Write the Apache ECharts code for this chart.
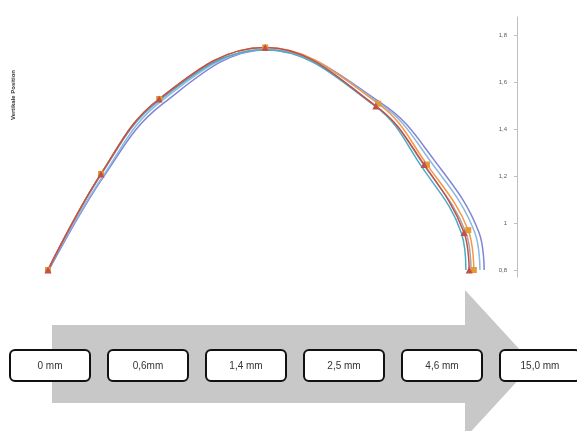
<!DOCTYPE html>
<html>
<head>
<meta charset="utf-8">
<script src="https://cdn.jsdelivr.net/npm/echarts@6/dist/echarts.min.js"></script>
<style>
  html, body { margin: 0; padding: 0; background: #ffffff; }
  #chart { width: 577px; height: 431px; }
</style>
</head>
<body>
<div id="chart"></div>
<script>
// Profile curves, one per depth step (horizontal position, vertical position)
const stepLabels = ['0 mm', '0,6mm', '1,4 mm', '2,5 mm', '4,6 mm', '15,0 mm'];

const profile0mm  = [[0, 0.8], [1.13, 1.21], [2.37, 1.53], [4.63, 1.75], [6.99, 1.50], [8.02, 1.25], [8.87, 0.96], [8.98, 0.8]];
const profile06mm = [[0, 0.8], [1.13, 1.21], [2.37, 1.53], [4.63, 1.75], [7.04, 1.51], [8.08, 1.25], [8.96, 0.97], [9.08, 0.8]];
const profile14mm = [[0, 0.8], [1.11, 1.20], [2.35, 1.52], [4.61, 1.74], [6.97, 1.50], [7.97, 1.24], [8.81, 0.96], [8.91, 0.8]];
const profile25mm = [[0, 0.8], [1.13, 1.21], [2.37, 1.53], [4.63, 1.74], [6.99, 1.50], [8.04, 1.24], [8.91, 0.96], [9.02, 0.8]];
const profile46mm = [[0, 0.8], [1.17, 1.20], [2.41, 1.52], [4.65, 1.74], [7.08, 1.51], [8.17, 1.26], [9.10, 0.96], [9.21, 0.8]];
const profile15mm = [[0.02, 0.8], [1.19, 1.20], [2.45, 1.51], [4.69, 1.74], [7.12, 1.51], [8.23, 1.27], [9.19, 0.96], [9.30, 0.8]];

const yTicks = [0.8, 1.0, 1.2, 1.4, 1.6, 1.8];
const yTitle = 'Vertikale Position';

const chart = echarts.init(document.getElementById('chart'), null, { renderer: 'canvas' });

function curve(name, data, color, marker) {
  return {
    name: name,
    type: 'line',
    data: data,
    smooth: 0.4,
    symbol: marker ? marker.shape : 'none',
    symbolSize: marker ? marker.size : 0,
    showSymbol: !!marker,
    itemStyle: { color: marker ? marker.color : color },
    lineStyle: { color: color, width: 1.5 },
    emphasis: { disabled: true },
    animation: false
  };
}

// Arrow and step boxes underneath the plot
const graphics = [
  {
    type: 'polygon',
    z: 0,
    shape: {
      points: [[52, 325], [465, 325], [465, 290], [533, 364], [465, 438], [465, 403], [52, 403]]
    },
    style: { fill: '#c8c8c8' }
  },
  {
    type: 'text',
    left: 10,
    top: 70,
    rotation: Math.PI / 2,
    style: { text: yTitle, font: 'bold 6px "Liberation Sans"', fill: '#333333' }
  }
];

stepLabels.forEach(function (label, i) {
  const x = 10 + i * 98;
  graphics.push({
    type: 'rect',
    z: 2,
    shape: { x: x, y: 350, width: 80, height: 31, r: 5 },
    style: { fill: '#ffffff', stroke: '#111111', lineWidth: 2 }
  });
  graphics.push({
    type: 'text',
    z: 3,
    style: {
      x: x + 40, y: 366,
      text: label,
      align: 'center', verticalAlign: 'middle',
      font: '10px "Liberation Sans"', fill: '#333333'
    }
  });
});

chart.setOption({
  backgroundColor: '#ffffff',
  animation: false,
  grid: { left: 48, right: 60, top: 17, bottom: 154, containLabel: false },
  xAxis: {
    type: 'value',
    min: 0,
    max: 10,
    show: false
  },
  yAxis: {
    type: 'value',
    position: 'right',
    min: 0.77,
    max: 1.88,
    splitLine: { show: false },
    axisLine: { show: true, onZero: false, lineStyle: { color: '#bfbfbf', width: 1 } },
    axisTick: { show: true, inside: true, length: 3, customValues: yTicks, lineStyle: { color: '#bfbfbf' } },
    axisLabel: {
      inside: true,
      margin: 10,
      customValues: yTicks,
      fontSize: 6,
      fontFamily: 'Liberation Sans',
      color: '#595959',
      formatter: function (v) { return String(Math.round(v * 10) / 10).replace('.', ','); }
    }
  },
  series: [
    curve(stepLabels[5], profile15mm, '#7f86d6'),
    curve(stepLabels[4], profile46mm, '#8db8e2'),
    curve(stepLabels[3], profile25mm, '#a5a5a5'),
    curve(stepLabels[2], profile14mm, '#4bacc6'),
    curve(stepLabels[1], profile06mm, '#f79646', { shape: 'rect', size: 6, color: '#e39a35' }),
    curve(stepLabels[0], profile0mm, '#c0504d', { shape: 'triangle', size: 7, color: '#c0504d' })
  ],
  graphic: graphics
});
</script>
</body>
</html>
